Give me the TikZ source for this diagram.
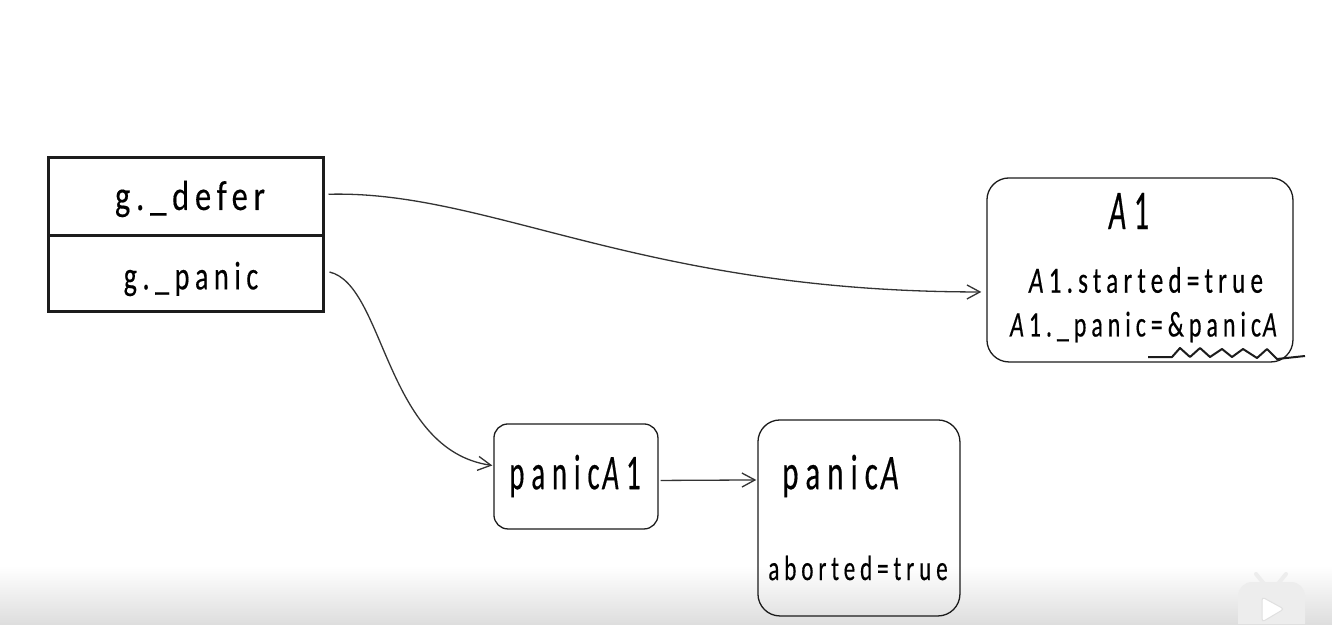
\documentclass[tikz,border=0pt]{standalone}
\usepackage{fontspec}
\usetikzlibrary{arrows.meta}
\newcommand{\handdef}[2]{\newfontfamily#1[LetterSpace=14,FakeBold=0.35,FakeStretch=#2]{Carlito}}
\handdef{\handdefer}{0.77}
\handdef{\handpanic}{0.70}
\handdef{\handaone}{0.53}
\handdef{\handstart}{0.68}
\handdef{\handptr}{0.66}
\handdef{\handpaone}{0.57}
\handdef{\handpa}{0.62}
\handdef{\handabort}{0.66}
\definecolor{inkc}{HTML}{1C1C1C}
\newcommand{\capA}{\textit{A}}
\tikzset{
  x=1pt,y=-1pt,
  field/.style={draw=inkc,line width=3pt,minimum width=275pt,inner sep=0pt,anchor=north west},
  card/.style={draw=inkc,line width=1.3pt,inner sep=0pt,anchor=north west,rounded corners=#1},
  label/.style={inner sep=0pt,text=black,font=\fontsize{#1}{#1}\selectfont},
  link/.style={draw=black!80,line width=1.3pt,-{Straight Barb[length=13pt,width=14pt,line width=1.3pt]}}
}
\begin{document}
\begin{tikzpicture}
\useasboundingbox (0,0) rectangle (1332,624);
\fill[white] (0,0) rectangle (1332,624);
\shade[top color=white,bottom color=black!13,shading angle=0] (0,566) rectangle (1332,624);
% player mark
\fill[white!93!black] (1238,624) -- (1238,596) arc[start angle=180,end angle=90,radius=14pt] -- (1291,582) arc[start angle=90,end angle=0,radius=14pt] -- (1305,624) -- cycle;
\draw[white!93!black,line width=4pt,line cap=round] (1256,574) -- (1265,585) (1286,574) -- (1277,585);
\filldraw[white,draw=black!12,line width=1pt,rounded corners=3pt] (1262,597) -- (1284,609) -- (1262,622) -- cycle;
% boxes
\node[field,minimum height=78.5pt] (defer) at (46.5,155.5) {};
\node[field,minimum height=76pt] (panic) at (46.5,233.5) {};
\node[card=22pt,minimum width=306pt,minimum height=184pt] (a1) at (986.3,177.3) {};
\node[card=14pt,minimum width=164pt,minimum height=105pt] (pa1) at (493.3,423.3) {};
\node[card=22pt,minimum width=202pt,minimum height=196pt] (pa) at (757.3,419.3) {};
% texts
\node[label=42] (tdefer) at (190,199) {\handdefer g.\_defer};
\node[label=40] (tpanic) at (191,279) {\handpanic g.\_panic};
\node[label=56] (ta1) at (1129,211) {\handaone\capA1};
\node[label=37] (tstarted) at (1146,280) {\handstart\capA1.started=true};
\node[label=36] (tpanicptr) at (1146,327) {\handptr\capA1.\_panic=\&panic\kern2pt\capA};
\node[label=50] (tpa1) at (575,476) {\handpaone panic\kern3pt\capA1};
\node[label=50] (tpa) at (844,476) {\handpa panic\kern3pt\capA};
\node[label=35] (taborted) at (858,568) {\handabort aborted=true};
% connectors
\draw[link] ([shift={(4,-2)}]defer.east) .. controls (490,190) and (640,292) .. ([shift={(-5,22)}]a1.west);
\draw[link] ([shift={(5,-1)}]panic.east) .. controls (385,285) and (385,450) .. ([shift={(-1,-11)}]pa1.west);
\draw[link] ([shift={(2,4)}]pa1.east) -- ([shift={(-1,-38)}]pa.west);
% scribble
\draw[inkc,line width=2pt,line join=round] (1148,357) -- (1172,357) -- (1180,348) -- (1190,357) -- (1200,348) -- (1210,357) -- (1222,349) -- (1232,357) -- (1243,349) -- (1257,358) -- (1267,349) -- (1277,359) -- (1305,356);
\end{tikzpicture}
\end{document}
